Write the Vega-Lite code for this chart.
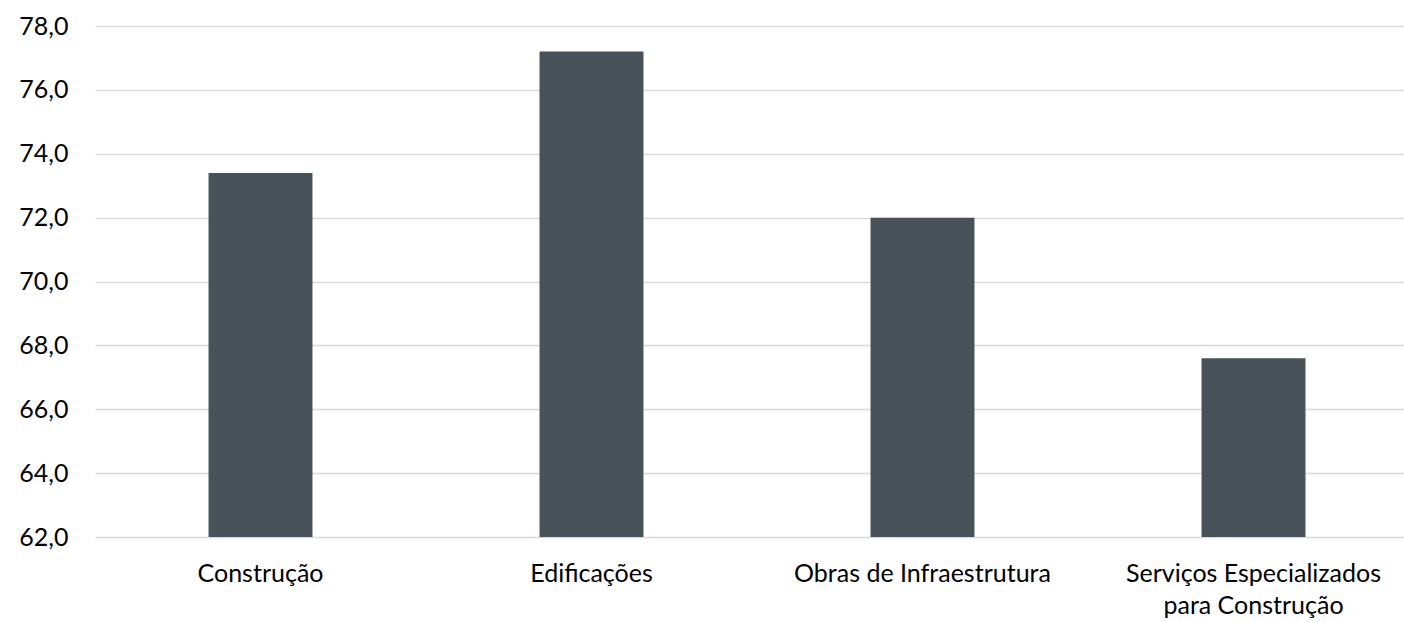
{
  "$schema": "https://vega.github.io/schema/vega-lite/v6.json",
  "autosize": "none",
  "padding": {"left": 95, "top": 26, "right": 0, "bottom": 85},
  "width": 1309,
  "height": 511,
  "background": "white",
  "config": {"view": {"stroke": null}, "font": "Lato"},
  "data": {
    "values": [
      {"setor": "Construção", "valor": 73.4},
      {"setor": "Edificações", "valor": 77.2},
      {"setor": "Obras de Infraestrutura", "valor": 72.0},
      {"setor": "Serviços Especializados para Construção", "valor": 67.6}
    ]
  },
  "mark": {"type": "bar", "color": "#475359", "clip": true},
  "encoding": {
    "x": {
      "field": "setor",
      "type": "nominal",
      "sort": null,
      "title": null,
      "scale": {"range": [0, 1324], "paddingInner": 0.686, "paddingOuter": 0.343},
      "axis": {
        "domain": false,
        "ticks": false,
        "grid": false,
        "labelAngle": 0,
        "labelFont": "Lato",
        "labelFontSize": 25,
        "labelColor": "#000000",
        "labelPadding": 24,
        "labelLineHeight": 32,
        "labelLimit": 400,
        "labelExpr": "datum.value == 'Serviços Especializados para Construção' ? ['Serviços Especializados', 'para Construção'] : datum.value"
      }
    },
    "y": {
      "field": "valor",
      "type": "quantitative",
      "title": null,
      "scale": {"domain": [62, 78], "nice": false, "zero": false},
      "axis": {
        "values": [62, 64, 66, 68, 70, 72, 74, 76, 78],
        "domain": false,
        "ticks": false,
        "grid": true,
        "gridColor": "#d9d9d9",
        "gridWidth": 1.5,
        "labelFont": "Lato",
        "labelFontSize": 25,
        "labelColor": "#000000",
        "labelPadding": 27,
        "labelExpr": "replace(format(datum.value, '.1f'), '.', ',')"
      }
    }
  }
}
